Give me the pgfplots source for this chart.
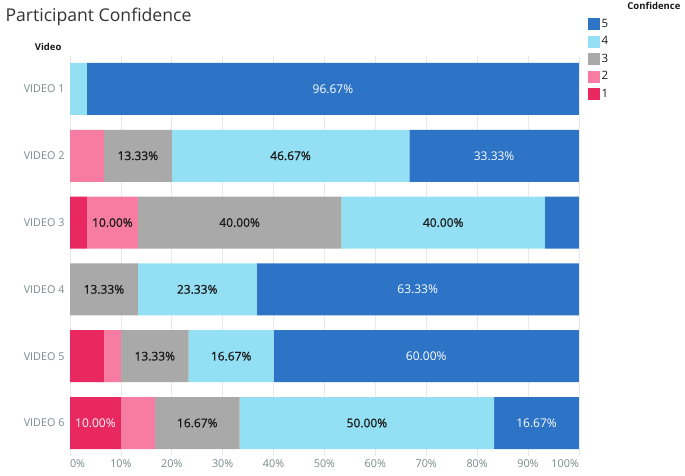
\documentclass[border=0pt]{standalone}
\usepackage{fontspec}
\setmainfont{Open Sans}
\newfontfamily\semib[FakeBold=0.8]{Open Sans}
\usepackage{pgfplots}
\usepackage{pgfplotstable}
\pgfplotsset{compat=1.18}
\definecolor{c5}{RGB}{45,116,199}
\definecolor{c4}{RGB}{147,224,245}
\definecolor{c3}{RGB}{168,169,168}
\definecolor{c2}{RGB}{247,124,163}
\definecolor{c1}{RGB}{232,40,94}
\definecolor{tickgray}{RGB}{120,138,138}
\definecolor{dark}{RGB}{25,25,25}
\definecolor{gridc}{RGB}{232,232,232}
\definecolor{titlec}{RGB}{51,51,51}
\pgfplotstableread{
y v1 v2 v3 v4 v5
1 0 0 0 3.33 96.67
2 0 6.67 13.33 46.67 33.33
3 3.33 10.00 40.00 40.00 6.67
4 0 0 13.33 23.33 63.33
5 6.67 3.33 13.33 16.67 60.00
6 10.00 6.67 16.67 50.00 16.67
}\data
\pgfplotsset{
  seg/.style n args={4}{
    fill=#2, draw=none,
    visualization depends on={\thisrow{#1}\as\w},
    nodes near coords={\ifdim\w pt<9.9pt\else\pgfmathprintnumber[fixed,fixed zerofill,precision=2]{\w}\%\fi},
    every node near coord/.append style={text=#3, anchor=center, font=#4\fontsize{12}{12}\selectfont},
  },
}
\begin{document}
\begin{tikzpicture}
\path[use as bounding box] (0,0) rectangle (685pt,476pt);
\begin{axis}[
  at={(70pt,19.6pt)}, anchor=south west,
  scale only axis, width=509pt, height=400.8pt,
  xbar stacked, bar width=52pt,
  xmin=0, xmax=100.02, ymin=0.5, ymax=6.5, y dir=reverse,
  clip=false,
  ytick={1,2,3,4,5,6},
  yticklabels={VIDEO 1,VIDEO 2,VIDEO 3,VIDEO 4,VIDEO 5,VIDEO 6},
  xtick={0,10,...,100},
  xticklabels={\rlap{0\%},10\%,20\%,30\%,40\%,50\%,60\%,70\%,80\%,90\%,\llap{100\%}},
  axis line style={draw=none}, major tick length=0pt,
  xmajorgrids, grid style={draw=gridc, line width=0.6pt},
  ticklabel style={text=tickgray, font=\fontsize{10.8}{11}\selectfont},
  yticklabel style={xshift=-2pt},
  /pgf/number format/assume math mode=true,
  reverse legend,
  legend style={at={(1.0177,1.097)}, anchor=north west, draw=none, fill=none,
    font=\fontsize{11.5}{12}\selectfont, row sep=2.5pt, inner sep=0pt,
    nodes={inner sep=1.5pt, text height=9pt, text depth=3pt, text=dark}},
  legend cell align=left,
  legend image code/.code={\fill[#1] (0pt,-6pt) rectangle (12pt,6pt);},
]
\addplot[seg={v1}{c1}{white}{}] table[x=v1,y=y]{\data};
\addplot[seg={v2}{c2}{dark}{\semib}] table[x=v2,y=y]{\data};
\addplot[seg={v3}{c3}{dark}{\semib}] table[x=v3,y=y]{\data};
\addplot[seg={v4}{c4}{dark}{\semib}] table[x=v4,y=y]{\data};
\addplot[seg={v5}{c5}{white}{}] table[x=v5,y=y]{\data};
\legend{1,2,3,4,5}
\end{axis}
\node[anchor=west, text=titlec, font=\fontsize{17.6}{18}\selectfont] at (2pt,459pt) {Participant Confidence};
\node[anchor=east, text=dark, font=\bfseries\fontsize{9.5}{10}\selectfont] at (65pt,429pt) {Video};
\node[anchor=east, text=dark, font=\bfseries\fontsize{9.5}{10}\selectfont] at (684pt,470pt) {Confidence};
\end{tikzpicture}
\end{document}
